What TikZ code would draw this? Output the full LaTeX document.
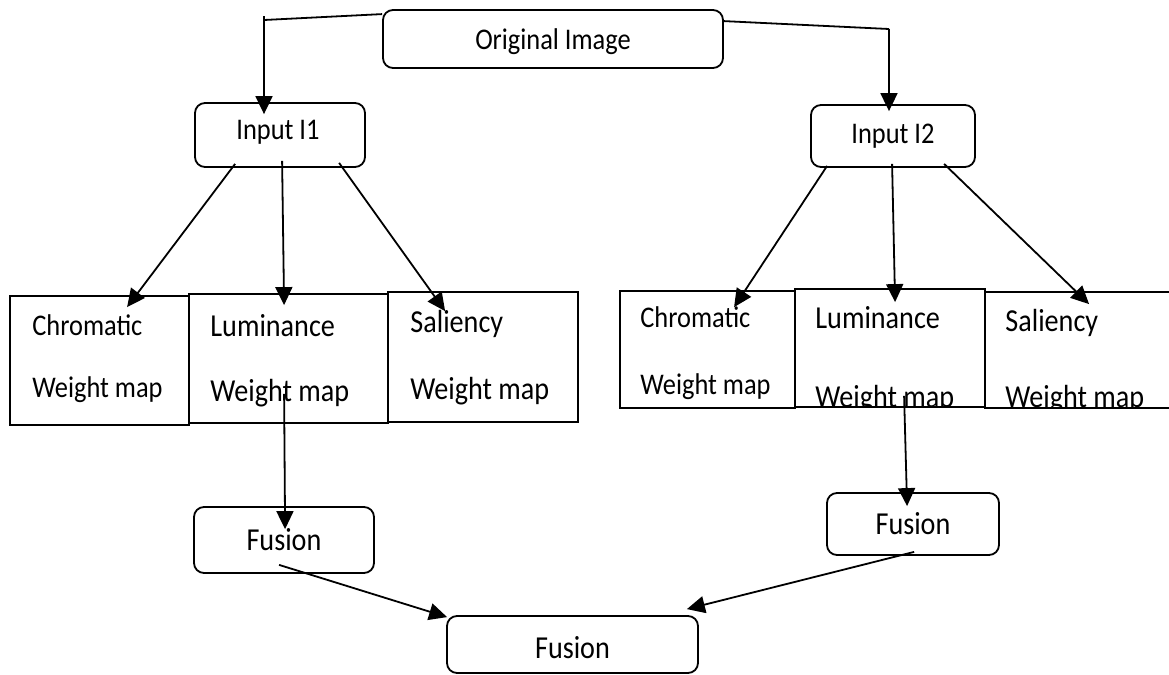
\documentclass[tikz,border=0pt]{standalone}
\usepackage{fontspec}
\setmainfont{Carlito}[FakeStretch=0.88]
\usetikzlibrary{arrows.meta,fit,calc}
\begin{document}
\begin{tikzpicture}[x=0.5pt,y=-0.5pt,
  ln/.style={line width=0.9pt},
  arr/.style={ln,-{Triangle[length=9pt,width=8.5pt]}},
  rbox/.style={draw,line width=0.9pt,rounded corners=5pt,inner sep=0pt},
  wbox/.style={draw,line width=0.9pt,inner sep=0pt},
  big/.style={font=\fontsize{16}{19}\selectfont},
  small/.style={font=\fontsize{15}{18}\selectfont},
  wt/.style={inner sep=0pt,anchor=base west},
]
\useasboundingbox (0,0) rectangle (1169,675);

% boxes
\node[rbox,fit={(383,10)(723,68)}] (orig) {};
\node[small,inner sep=0pt] (origt) at ([yshift=-1.5pt]orig.center) {Original Image};
\node[rbox,fit={(195,103)(365,167)}] (i1) {};
\node[small,inner sep=0pt] (i1t) at ([xshift=-1pt,yshift=1.5pt]i1.center) {Input I1};
\node[rbox,fit={(811,105)(975,167)}] (i2) {};
\node[small,inner sep=0pt] (i2t) at ([yshift=0pt]i2.center) {Input I2};

\node[wbox,fit={(10,296)(189,425)}] (c1) {};
\node[wbox,fit={(189,294)(388,423)}] (l1) {};
\node[wbox,fit={(388,292)(578,422)}] (s1) {};
\node[wbox,fit={(620,291)(795,408)}] (c2) {};
\node[wbox,fit={(795,289)(985,407)}] (l2) {};
\node[wbox,fit={(985,292)(1180,408)}] (s2) {};

\node[rbox,fit={(194,507)(374,573)}] (f1) {};
\node[big,inner sep=0pt] (f1t) at (f1.center) {Fusion};
\node[rbox,fit={(827,493)(999,555)}] (f2) {};
\node[big,inner sep=0pt] (f2t) at (f2.center) {Fusion};
\node[rbox,fit={(447,616)(698,673)}] (ff) {};
\node[big,inner sep=0pt] (fft) at ([yshift=-1.5pt]ff.center) {Fusion};

% weight map texts
\node[wt,small] (c1a) at (32,335) {Chromatic};
\node[wt,small] (c1b) at (32,397) {Weight map};
\node[wt,big] (l1a) at (210,336) {Luminance};
\node[wt,big] (l1b) at (210,401) {Weight map};
\node[wt,big] (s1a) at (410,332) {Saliency};
\node[wt,big] (s1b) at (410,399) {Weight map};
\node[wt,small] (c2a) at (640,327) {Chromatic};
\node[wt,small] (c2b) at (640,394) {Weight map};
\node[wt,big] (l2a) at (815,328) {Luminance};
\node[wt,big] (s2a) at (1005,331) {Saliency};
\begin{scope}
\clip (l2.north west) rectangle (l2.south east);
\node[wt,big] (l2b) at (815,407) {Weight map};
\end{scope}
\begin{scope}
\clip (s2.north west) rectangle (s2.south east);
\node[wt,big] (s2b) at (1005,407) {Weight map};
\end{scope}

% top connectors
\coordinate (tl) at (264,20);
\coordinate (tr) at (889,29);
\draw[ln] ([yshift=-2.5pt]orig.north west) -- (tl);
\draw[arr] ([yshift=2pt]tl) -- ([yshift=-6pt]i1.north -| tl);
\draw[ln] ([yshift=-6pt]orig.north east) -- (tr);
\draw[arr] (tr) -- ([yshift=-3.5pt]i2.north -| tr);

% input 1 to weight maps
\draw[arr] ($(i1.south west)+(41,-4)$) -- ($(c1.north west)+(118,12)$);
\draw[arr] ($(i1.south west)+(88,-7)$) -- ($(l1.north west)+(96,12)$);
\draw[arr] ($(i1.south west)+(145,-5)$) -- ($(s1.north west)+(58,20)$);
% input 2 to weight maps
\draw[arr] ($(i2.south west)+(17,-2)$) -- ($(c2.north west)+(115,17)$);
\draw[arr] ($(i2.south west)+(82,-4)$) -- ($(l2.north west)+(101,14)$);
\draw[arr] ($(i2.south west)+(134,-4)$) -- ($(s2.north west)+(105,13)$);

% luminance to fusion
\draw[arr] ($(l1.south west)+(96,-30)$) -- ($(f1.north west)+(92,23)$);
\draw[arr] ($(l2.south west)+(110,-12)$) -- ($(f2.north west)+(81,14)$);

% fusion to final fusion
\draw[arr] ($(f1.south west)+(86,-9)$) -- ($(ff.north west)+(1,2)$);
\draw[arr] ($(f2.south west)+(88,-4)$) -- ($(ff.north east)+(-12,-6)$);
\end{tikzpicture}
\end{document}
